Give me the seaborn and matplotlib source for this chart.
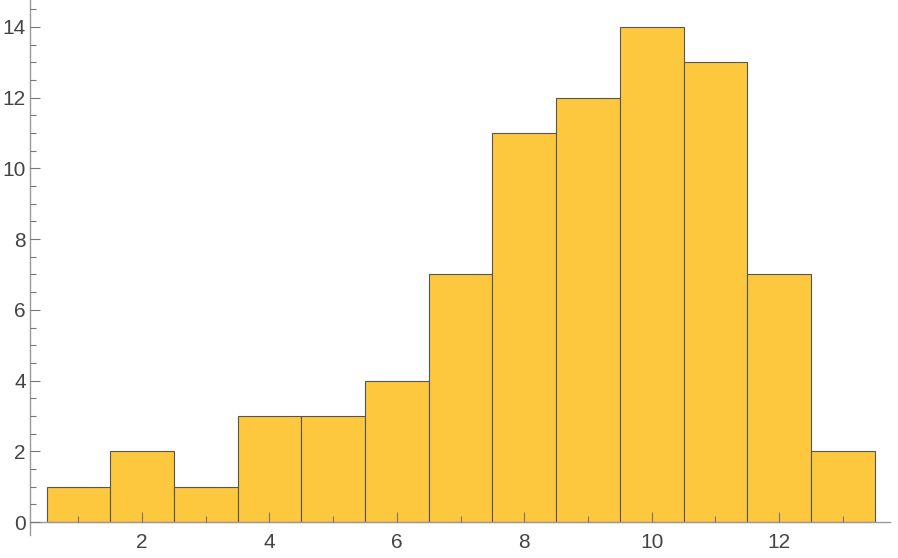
import numpy as np
import matplotlib
matplotlib.use("Agg")
import matplotlib.pyplot as plt
import seaborn as sns
import pandas as pd
from matplotlib.ticker import MultipleLocator

# histogram data: integer values and how often each occurs
values = [1, 2, 3, 4, 5, 6, 7, 8, 9, 10, 11, 12, 13]
counts = [1, 2, 1, 3, 3, 4, 7, 11, 12, 14, 13, 7, 2]

sns.set_style("white")
plt.rcParams['font.family'] = ['Liberation Sans', 'DejaVu Sans']

df = pd.DataFrame({"value": values, "count": counts})

fig = plt.figure(figsize=(8.98, 5.58), dpi=100)
ax = fig.add_axes([0.0334, 0.041, 0.9576, 0.959])

sns.histplot(data=df, x="value", weights="count", binwidth=1, binrange=(0.5, 13.5),
             ax=ax, color="#FDC83E", alpha=1.0, edgecolor="#555555", linewidth=0.8)

ax.set_axisbelow(False)
ax.set_xlim(0.24, 13.74)
ax.set_ylim(-0.37, 14.76)
ax.spines['bottom'].set_position(('data', 0))
ax.spines['top'].set_visible(False)
ax.spines['right'].set_visible(False)
for s in ['left', 'bottom']:
    ax.spines[s].set_color("#9a9a9a")
    ax.spines[s].set_linewidth(1.0)

ax.xaxis.set_major_locator(MultipleLocator(2))
ax.xaxis.set_minor_locator(MultipleLocator(1))
ax.yaxis.set_major_locator(MultipleLocator(2))
ax.yaxis.set_minor_locator(MultipleLocator(0.5))
ax.tick_params(axis='both', which='both', bottom=True, left=True, top=False, right=False)
ax.tick_params(axis='both', which='major', direction='in', length=7, width=0.8,
               color="#777777", labelsize=15, labelcolor="#444444")
ax.tick_params(axis='both', which='minor', direction='in', length=4, width=0.8,
               color="#777777")
ax.tick_params(axis='x', which='major', pad=8)
ax.tick_params(axis='y', which='major', pad=3)
ax.set_xlabel("")
ax.set_ylabel("")

fig.savefig("out.png", dpi=100)
